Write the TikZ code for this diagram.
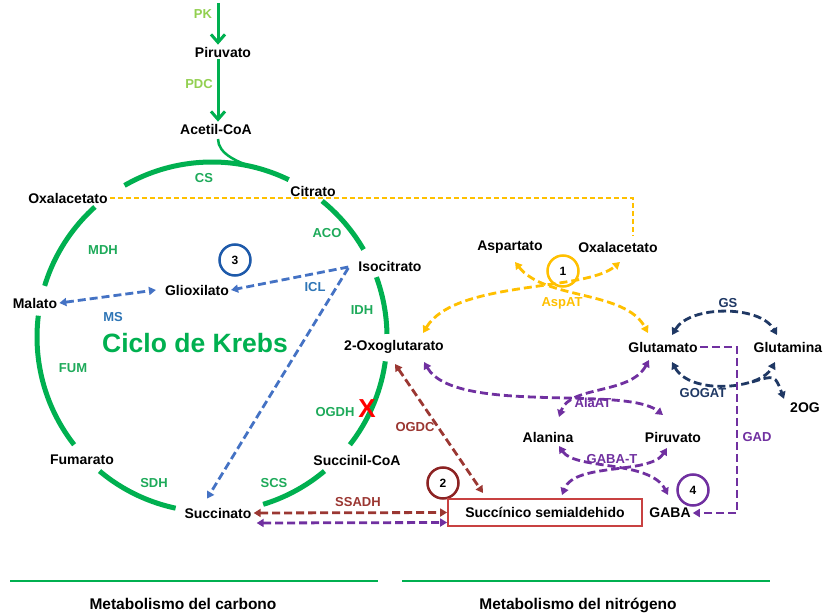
\documentclass[tikz,border=0pt]{standalone}
\usepackage{fontspec}
\setmainfont{Liberation Sans}
\usetikzlibrary{arrows.meta,calc}
\definecolor{kgreen}{RGB}{0,176,80}
\definecolor{egreen}{RGB}{30,170,90}
\definecolor{lgreen}{RGB}{146,208,80}
\definecolor{blueA}{RGB}{68,114,196}
\definecolor{bluetxt}{RGB}{46,117,182}
\definecolor{cblue}{RGB}{30,90,170}
\definecolor{yel}{RGB}{255,192,0}
\definecolor{dred}{RGB}{155,55,50}
\definecolor{cred}{RGB}{140,35,35}
\definecolor{boxred}{RGB}{200,65,65}
\definecolor{purp}{RGB}{112,48,160}
\definecolor{navyA}{RGB}{31,56,100}
\newcommand\metf{\fontsize{14}{16}\selectfont\bfseries}
\newcommand\enzf{\fontsize{13}{15}\selectfont\bfseries}
\newcommand\bigf{\fontsize{26.5}{30}\selectfont\bfseries}
\newcommand\botf{\fontsize{15.5}{18}\selectfont\bfseries}
\newcommand\numf{\fontsize{12}{14}\selectfont\bfseries}
\begin{document}
\begin{tikzpicture}[x=1pt,y=-1pt,
  met/.style={font=\metf, inner sep=2pt},
  enz/.style={font=\enzf, inner sep=1pt},
  krebs/.style={draw=kgreen, line width=5pt},
  dsh/.style={line width=2.8pt, dash pattern=on 8pt off 4pt},
  num/.style={circle, draw, line width=2.5pt, minimum size=31pt, inner sep=0pt, font=\numf},
  garrow/.style={draw=kgreen, line width=3pt, -{Straight Barb[length=8pt,width=14pt]}},
  >={Triangle[length=7pt,width=8pt]}
]
\useasboundingbox (0,0) rectangle (823,615);
\fill[white] (0,0) rectangle (823,615);

% ---------- Krebs cycle arcs ----------
\foreach \a/\b in {-120/-64,-51/-30,-20/-1,8/38,50/73,102/130,142/187,197/228}
  \draw[krebs] plot[domain=\a:\b, samples=40] ({212+175*cos(\x)},{337+175*sin(\x)});

% ---------- nodes: carbon metabolism ----------
\node[enz, text=lgreen] (pk) at (203,14) {PK};
\node[met] (pir) at (223,52) {Piruvato};
\node[enz, text=lgreen] (pdc) at (199,84) {PDC};
\node[met] (acoa) at (216,129) {Acetil-CoA};
\node[met] (oxa) at (68,198) {Oxalacetato};
\node[met] (cit) at (313,191) {Citrato};
\node[met] (iso) at (390,266) {Isocitrato};
\node[met] (oxo) at (394,347) {2-Oxoglutarato};
\node[met] (sucoa) at (357,460) {Succinil-CoA};
\node[met] (succ) at (218,513) {Succinato};
\node[met] (fum) at (82,460) {Fumarato};
\node[met] (mal) at (35,303) {Malato};
\node[met] (gli) at (197,290) {Glioxilato};
\node[num, draw=cblue] (c3) at (235,260) {3};
\node[enz, text=bluetxt] (ms) at (113,317) {MS};
\node[enz, text=bluetxt] (icl) at (315,287) {ICL};
\node[font=\bigf, text=kgreen] (ck) at (195,343) {Ciclo de Krebs};

\node[enz, text=egreen] (cs) at (204,178) {CS};
\node[enz, text=egreen] (aco) at (327,233) {ACO};
\node[enz, text=egreen] (idh) at (362,310) {IDH};
\node[enz, text=egreen] (ogdh) at (335,412) {OGDH};
\node[enz, text=egreen] (scs) at (274,483) {SCS};
\node[enz, text=egreen] (sdh) at (154,483) {SDH};
\node[enz, text=egreen] (fumE) at (73,368) {FUM};
\node[enz, text=egreen] (mdh) at (103,250) {MDH};
\node[font=\fontsize{26}{28}\selectfont\bfseries, text=red, inner sep=0pt] (xx) at (367,409) {X};

% ---------- nodes: nitrogen metabolism ----------
\node[met] (asp) at (510,247) {Aspartato};
\node[met] (oxa2) at (618,247) {Oxalacetato};
\node[num, draw=yel] (c1) at (563,271) {1};
\node[enz, text=yel] (aspat) at (562,303) {AspAT};
\node[met] (glu) at (663,347) {Glutamato};
\node[met, anchor=west, inner sep=0pt] (gln) at (753.5,347) {Glutamina};
\node[enz, text=navyA] (gs) at (728,303) {GS};
\node[enz, text=navyA] (gogat) at (703,393) {GOGAT};
\node[met] (og2) at (805,408) {2OG};
\node[enz, text=purp] (gad) at (757,437) {GAD};
\node[enz, text=purp] (alaat) at (593,403) {AlaAT};
\node[met] (ala) at (548,437) {Alanina};
\node[met] (pir2) at (673,437) {Piruvato};
\node[enz, text=purp] (gabat) at (612,459) {GABA-T};
\node[num, draw=cred] (c2) at (443,483) {2};
\node[num, draw=purp] (c4) at (693,490) {4};
\node[met, draw=boxred, line width=1.8pt, minimum width=194pt, minimum height=27pt] (ssa) at (545,512.5) {Succínico semialdehido};
\node[met] (gaba) at (670,513) {GABA};
\node[enz, text=dred] (ssadh) at (358,502) {SSADH};
\node[enz, text=dred] (ogdc) at (415,427) {OGDC};

% ---------- bottom ----------
\draw[kgreen, line width=2pt] (10,581) -- (378,581);
\draw[kgreen, line width=2pt] (402,581) -- (770,581);
\node[font=\botf] (lc) at (183,604) {Metabolismo del carbono};
\node[font=\botf] (ln) at (578,605) {Metabolismo del nitrógeno};

% ---------- connectors: carbon ----------
\coordinate (pktop) at (218,3);
\draw[garrow] (pktop) -- (pktop |- pir.north);
\draw[garrow] (pktop |- pir.south) -- (pktop |- acoa.north);
\coordinate (csj) at (260,169);
\draw[kgreen, line width=2.5pt] (218,139) .. controls (218,154) and (238,163) .. (csj);

\draw[yel, line width=1.8pt, dash pattern=on 5pt off 3pt] (oxa.east) -| (633,236);

\draw[dsh, blueA, ->] ($(iso.west)+(-8,1)$) -- (gli.east);
\draw[dsh, blueA, <->] (mal.east) -- ($(gli.west)+(-7,0)$);
\draw[dsh, blueA, ->] ($(iso.west)+(-8,2)$) -- ($(succ.north)+(-11,-7)$);

% ---------- connectors: nitrogen ----------
\coordinate (oxoT) at (423,333);
\coordinate (oxoB) at (424,362);
\coordinate (oxaB) at (620,262);
\coordinate (aspB) at (515,262);
\coordinate (gluTL) at (648,333);
\coordinate (gluBL) at (649,360);
\draw[dsh, yel, <->] (oxoT) .. controls (455,280) and (585,292) .. (oxaB);
\draw[dsh, yel, <->] (aspB) .. controls (545,300) and (625,290) .. (gluTL);

\coordinate (alaT) at (559,417);
\coordinate (pirT) at (663,415);
\draw[dsh, purp, <->] (oxoB) .. controls (455,415) and (625,385) .. (pirT);
\draw[dsh, purp, <->] (gluBL) .. controls (630,395) and (570,385) .. (alaT);

\coordinate (alaB) at (559,446);
\coordinate (pirB) at (667,448);
\coordinate (gabaT) at (668,495);
\coordinate (ssaT) at (562,495);
\draw[dsh, purp, <->] (alaB) .. controls (575,470) and (650,460) .. (gabaT);
\draw[dsh, purp, <->] (pirB) .. controls (650,475) and (575,462) .. (ssaT);

\coordinate (gluTR) at (672,335);
\coordinate (glnTL) at (777,335);
\coordinate (gluBR) at (672,362);
\coordinate (glnBL) at (775,362);
\coordinate (ogj) at (752,382);
\draw[dsh, navyA, <->] (gluTR) .. controls (690,305) and (760,305) .. (glnTL);
\draw[dsh, navyA, <->] (gluBR) .. controls (690,395) and (760,390) .. (glnBL);
\draw[dsh, navyA, ->] (ogj) .. controls (775,375) .. ($(og2.north west)+(-4,-2)$);

\coordinate (gadc) at (737,513);
\draw[dsh, purp, ->] (glu.east) -| (gadc) -- (gaba.east);

\coordinate (oxoR) at (395,364);
\coordinate (ssaR) at (483,493);
\draw[dsh, dred, <->] (oxoR) -- (ssaR);
\draw[dsh, dred, <->] (succ.east) -- (ssa.west);
\draw[dsh, purp, <->] ($(succ.east)+(3,10)$) -- ($(ssa.west)+(0,10)$);
\end{tikzpicture}
\end{document}
